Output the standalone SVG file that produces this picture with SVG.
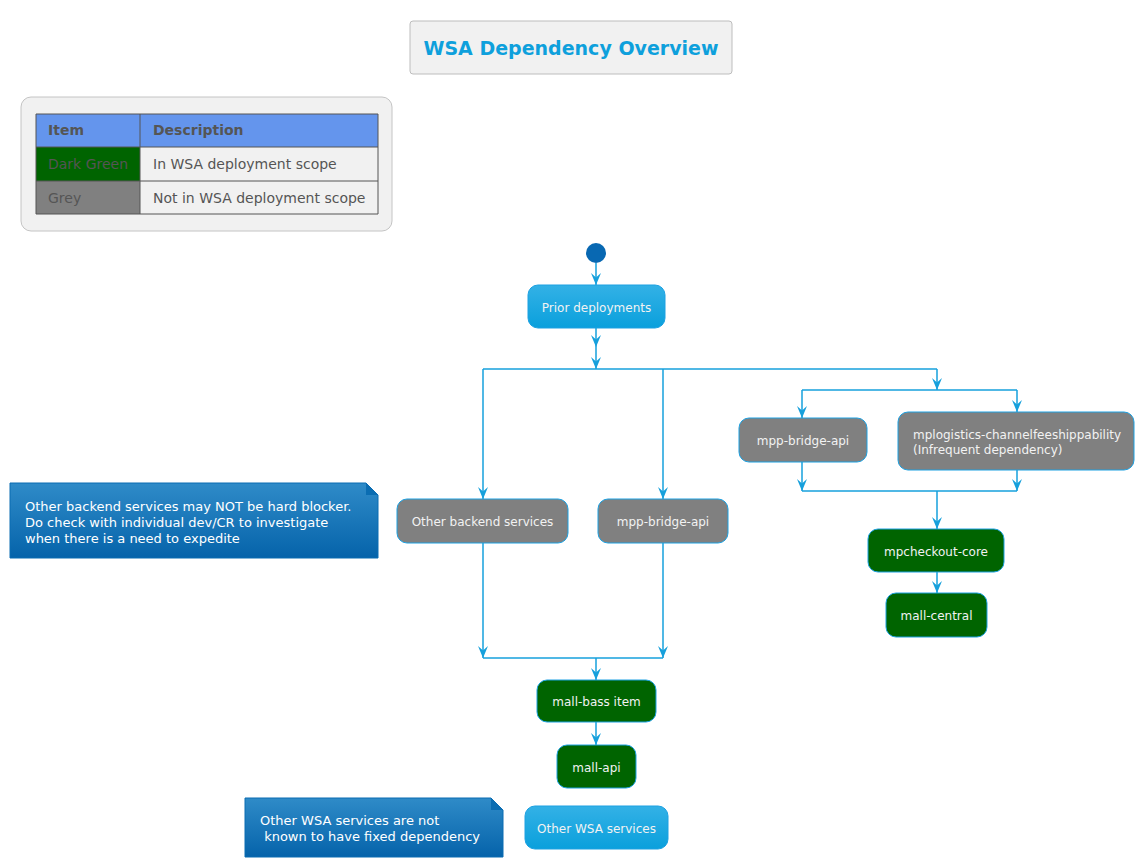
<svg xmlns="http://www.w3.org/2000/svg" width="1144" height="868" viewBox="0 0 1144 868">
<defs>
<linearGradient id="gBlue" x1="0" y1="0" x2="0" y2="1"><stop offset="0" stop-color="#33b1e6"/><stop offset="1" stop-color="#0aa0dc"/></linearGradient>
<linearGradient id="gNote" x1="0" y1="0" x2="0" y2="1"><stop offset="0" stop-color="#2f8bc8"/><stop offset="1" stop-color="#0563aa"/></linearGradient>
<marker id="ah" viewBox="0 0 12 10" refX="12" refY="5" markerWidth="12" markerHeight="10" markerUnits="userSpaceOnUse" orient="auto">
<path d="M0,0 L12,5 L0,10 L4.5,5 Z" fill="#16a0dc"/>
</marker>
<style>
text{font-family:"DejaVu Sans",Verdana,sans-serif}
.act{stroke:#1ca1e2;stroke-width:1}
.grey{fill:#808080}
.green{fill:#006400}
.blue{fill:url(#gBlue)}
.lbl{font-size:12px;fill:#f2f2f2;text-anchor:middle}
.lbll{font-size:12px;fill:#f2f2f2}
.note{fill:url(#gNote);stroke:#0b6db2;stroke-width:1}
.ntxt{font-size:13px;fill:#ffffff}
.conn line{stroke:#16a0dc;stroke-width:1.5;fill:none}
.lg{font-size:14px;fill:#555555}
</style>
</defs>
<rect width="1144" height="868" fill="#ffffff"/>

<g id="title">
<rect x="410" y="21" width="322" height="53" rx="3" fill="#f1f1f1" stroke="#bdbdbd"/>
<text x="571" y="55" text-anchor="middle" font-size="19" font-weight="bold" fill="#0ea0dc">WSA Dependency Overview</text>
</g>

<g id="legend">
<rect x="21" y="97" width="371" height="134" rx="10" fill="#f1f1f1" stroke="#c4c4c4"/>
<rect x="36" y="114" width="104" height="33" fill="#6495ed"/>
<rect x="140" y="114" width="238" height="33" fill="#6495ed"/>
<rect x="36" y="147" width="104" height="34" fill="#006400"/>
<rect x="140" y="147" width="238" height="34" fill="#f1f1f1"/>
<rect x="36" y="181" width="104" height="33" fill="#808080"/>
<rect x="140" y="181" width="238" height="33" fill="#f1f1f1"/>
<path d="M36,114 H378 V214 H36 Z M36,147 H378 M36,181 H378 M140,114 V214" fill="none" stroke="#555555" stroke-width="1"/>
<text class="lg" x="48" y="135" font-weight="bold">Item</text>
<text class="lg" x="153" y="135" font-weight="bold">Description</text>
<text class="lg" x="48" y="169">Dark Green</text>
<text class="lg" x="153" y="169">In WSA deployment scope</text>
<text class="lg" x="48" y="203">Grey</text>
<text class="lg" x="153" y="203">Not in WSA deployment scope</text>
</g>

<g class="conn" id="connectors">
<line x1="596" y1="263" x2="596" y2="285" marker-end="url(#ah)"/>
<line x1="596" y1="328" x2="596" y2="347" marker-end="url(#ah)"/>
<line x1="596" y1="347" x2="596" y2="369" marker-end="url(#ah)"/>
<line x1="483" y1="369" x2="937" y2="369"/>
<line x1="483" y1="369" x2="483" y2="499" marker-end="url(#ah)"/>
<line x1="663" y1="369" x2="663" y2="499" marker-end="url(#ah)"/>
<line x1="937" y1="369" x2="937" y2="390" marker-end="url(#ah)"/>
<line x1="802" y1="390" x2="1017" y2="390"/>
<line x1="802" y1="390" x2="802" y2="418" marker-end="url(#ah)"/>
<line x1="1017" y1="390" x2="1017" y2="412" marker-end="url(#ah)"/>
<line x1="802" y1="462" x2="802" y2="491" marker-end="url(#ah)"/>
<line x1="1017" y1="470" x2="1017" y2="491" marker-end="url(#ah)"/>
<line x1="802" y1="491" x2="1017" y2="491"/>
<line x1="937" y1="491" x2="937" y2="529" marker-end="url(#ah)"/>
<line x1="937" y1="572" x2="937" y2="593" marker-end="url(#ah)"/>
<line x1="483" y1="543" x2="483" y2="658" marker-end="url(#ah)"/>
<line x1="663" y1="543" x2="663" y2="658" marker-end="url(#ah)"/>
<line x1="483" y1="658" x2="663" y2="658"/>
<line x1="596" y1="658" x2="596" y2="680" marker-end="url(#ah)"/>
<line x1="596" y1="722" x2="596" y2="745" marker-end="url(#ah)"/>
</g>

<g id="start"><circle cx="596" cy="253" r="10" fill="#0868b2"/></g>

<g id="prior"><rect class="act blue" x="528" y="285" width="137" height="43" rx="10"/><text class="lbl" x="596.5" y="312">Prior deployments</text></g>

<g id="other-backend"><rect class="act grey" x="397" y="499" width="171" height="44" rx="10"/><text class="lbl" x="482.5" y="526">Other backend services</text></g>

<g id="mpp-bridge-api-1"><rect class="act grey" x="598" y="499" width="130" height="44" rx="10"/><text class="lbl" x="663" y="526">mpp-bridge-api</text></g>

<g id="mpp-bridge-api-2"><rect class="act grey" x="739" y="418" width="128" height="44" rx="10"/><text class="lbl" x="803" y="445">mpp-bridge-api</text></g>

<g id="mplogistics"><rect class="act grey" x="898" y="412" width="236" height="58" rx="10"/><text class="lbll" x="913" y="439">mplogistics-channelfeeshippability</text><text class="lbll" x="913" y="454">(Infrequent dependency)</text></g>

<g id="mpcheckout-core"><rect class="act green" x="868" y="529" width="136" height="43" rx="10"/><text class="lbl" x="936" y="556">mpcheckout-core</text></g>

<g id="mall-central"><rect class="act green" x="886" y="593" width="101" height="44" rx="10"/><text class="lbl" x="936.5" y="620">mall-central</text></g>

<g id="mall-bass-item"><rect class="act green" x="537" y="680" width="119" height="42" rx="10"/><text class="lbl" x="596.5" y="706">mall-bass item</text></g>

<g id="mall-api"><rect class="act green" x="557" y="745" width="79" height="43" rx="10"/><text class="lbl" x="596.5" y="772">mall-api</text></g>

<g id="other-wsa"><rect class="act blue" x="525" y="806" width="143" height="43" rx="10"/><text class="lbl" x="596.5" y="833">Other WSA services</text></g>

<g id="note-backend">
<path class="note" d="M10,483 H366 L378,495 V558 H10 Z"/>
<path d="M366,483 V495 H378 Z" fill="#0b6db2"/>
<text class="ntxt" x="25" y="511">Other backend services may NOT be hard blocker.</text>
<text class="ntxt" x="25" y="527">Do check with individual dev/CR to investigate</text>
<text class="ntxt" x="25" y="543">when there is a need to expedite</text>
</g>

<g id="note-wsa">
<path class="note" d="M245,798 H491 L503,810 V857 H245 Z"/>
<path d="M491,798 V810 H503 Z" fill="#0b6db2"/>
<text class="ntxt" x="260" y="825" xml:space="preserve">Other WSA services are not</text>
<text class="ntxt" x="260" y="841" xml:space="preserve"> known to have fixed dependency</text>
</g>
</svg>
